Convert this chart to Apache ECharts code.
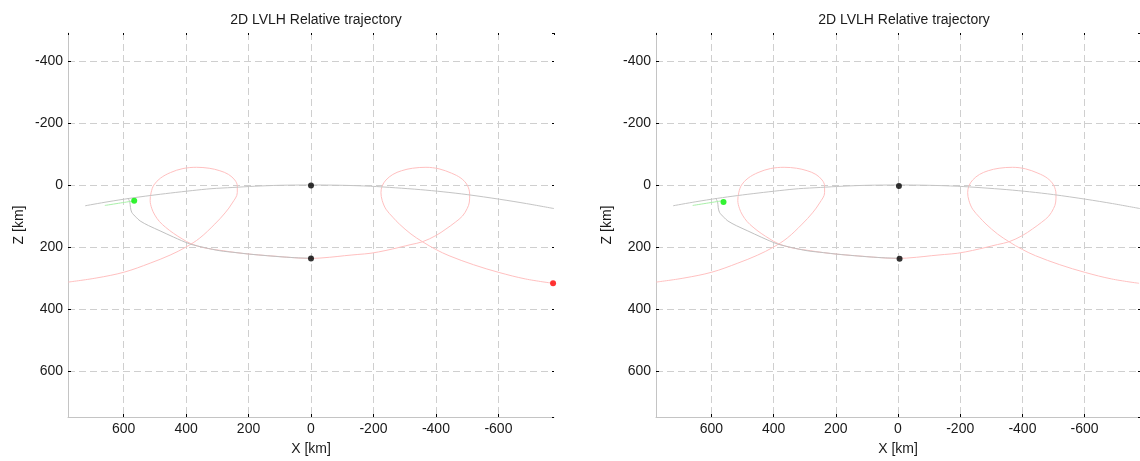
<!DOCTYPE html>
<html>
<head>
<meta charset="utf-8">
<title>2D LVLH Relative trajectory</title>
<script src="https://cdn.jsdelivr.net/npm/echarts@6/dist/echarts.min.js"></script>
<style>
  html, body { margin: 0; padding: 0; background: #fff; }
  #chart { width: 1140px; height: 461px; }
</style>
</head>
<body>
<div id="chart"></div>
<script>
const chartDom = document.getElementById('chart');
const myChart = echarts.init(chartDom);

// axis extents (km)
const xRange = [-778, 778];
const zRange = [-490, 748];

// long gray arc through the origin
const arcX = [723, 650, 580, 515, 450, 380, 320, 250, 180, 100, 0, -100, -190, -270, -350, -423, -500, -604, -690, -778];
const arcZ = [67, 54, 43, 34, 26, 18, 12, 8, 4, 1, 0, 1, 4, 9, 15, 22, 31, 46, 60, 76];

// short green approach segment
const greenX = [660, 610, 566];
const greenZ = [66, 58, 51];

// gray hook down to the lower point
const hookX = [586, 580, 578, 574, 560, 547, 520, 483, 440, 388, 340, 292, 240, 196, 140, 90, 40, 0];
const hookZ = [42, 55, 72, 88, 104, 116, 131, 148, 168, 190, 202, 212, 218, 223, 228, 232, 235, 236];

// red (pink) looping trajectory, from the left edge to the end point
const redX = [777, 688, 598, 515, 451, 400, 356, 308, 275, 252, 236, 236, 244, 264, 292, 326, 366, 410, 450, 482, 503, 512, 515, 510, 500, 485, 466, 440, 412, 385, 340, 281, 240, 196, 150, 111, 60, 4,
  -60, -107, -150, -192, -240, -283, -320, -357, -400, -432, -462, -485, -500, -507, -508, -500, -480, -450, -410, -368, -325, -290, -262, -240, -228, -224, -228, -240, -262, -283, -320, -357, -400, -442, -520, -602, -687, -775];
const redZ = [313, 300, 281, 252, 226, 200, 171, 126, 90, 58, 25, 3, -16, -34, -46, -54, -57, -53, -40, -22, 0, 25, 50, 75, 97, 118, 136, 156, 174, 189, 203, 212, 218, 223, 227, 230, 234, 237,
  233, 228, 224, 220, 211, 201, 192, 183, 163, 142, 120, 100, 76, 55, 30, 0, -22, -38, -52, -57, -54, -46, -34, -16, 3, 25, 50, 78, 104, 126, 158, 183, 208, 228, 257, 282, 303, 317];

// markers, left panel
const blackDotsL = [[0, 2], [0, 237]];
const greenDotL = [[566, 51]];
const redDotL = [[-775, 317]];
// markers, right panel
const blackDotsR = [[-3, 3], [-5, 238]];
const greenDotR = [[561, 55]];

const zip = (xs, zs) => xs.map((x, i) => [x, zs[i]]);

const panels = [
  { left: 68, center: 311, blacks: blackDotsL, green: greenDotL, red: redDotL },
  { left: 656, center: 899, blacks: blackDotsR, green: greenDotR, red: [] }
];

const labelFont = { fontFamily: 'Liberation Sans, Arial, sans-serif', fontSize: 14, color: '#1a1a1a' };

const grids = [], xAxes = [], yAxes = [], titles = [], series = [];

panels.forEach((p, gi) => {
  grids.push({ left: p.left, top: 33, width: 486, height: 385.5 });
  titles.push({
    text: '2D LVLH Relative trajectory',
    left: p.center, top: 8, textAlign: 'center',
    textStyle: { ...labelFont, fontWeight: 'normal' }
  });
  const gridLine = { show: true, showMinLine: false, showMaxLine: false, lineStyle: { color: '#cfcfcf', type: [7, 4], width: 1 } };
  xAxes.push({
    gridIndex: gi, type: 'value', inverse: true, position: 'bottom',
    min: xRange[0], max: xRange[1], splitNumber: 8,
    name: 'X [km]', nameLocation: 'middle', nameGap: 25, nameTextStyle: labelFont,
    axisLine: { onZero: false, lineStyle: { color: '#c4c4c4' } },
    axisTick: { inside: true, length: 3, lineStyle: { color: '#000' } },
    axisLabel: { ...labelFont, margin: 5, showMinLabel: false, showMaxLabel: false },
    splitLine: gridLine
  });
  xAxes.push({
    gridIndex: gi, type: 'value', inverse: true, position: 'top',
    min: xRange[0], max: xRange[1], splitNumber: 8,
    axisLine: { show: false, onZero: false },
    axisTick: { inside: true, length: 2, lineStyle: { color: '#000' } },
    axisLabel: { show: false }, splitLine: { show: false }
  });
  yAxes.push({
    gridIndex: gi, type: 'value', inverse: true, position: 'left',
    min: zRange[0], max: zRange[1], splitNumber: 6,
    name: 'Z [km]', nameLocation: 'middle', nameGap: 42, nameTextStyle: labelFont,
    axisLine: { show: true, onZero: false, lineStyle: { color: '#c4c4c4' } },
    axisTick: { show: true, inside: true, length: 3, lineStyle: { color: '#000' } },
    axisLabel: { ...labelFont, margin: 5, showMinLabel: false, showMaxLabel: false },
    splitLine: gridLine
  });
  yAxes.push({
    gridIndex: gi, type: 'value', inverse: true, position: 'right',
    min: zRange[0], max: zRange[1], splitNumber: 6,
    axisLine: { show: false, onZero: false },
    axisTick: { show: true, inside: true, length: 2, lineStyle: { color: '#000' } },
    axisLabel: { show: false }, splitLine: { show: false }
  });

  const xi = gi * 2, yi = gi * 2;
  const line = (data, color, smooth) => ({
    type: 'line', xAxisIndex: xi, yAxisIndex: yi, data,
    showSymbol: false, smooth, silent: true,
    lineStyle: { color, width: 1 }
  });
  const dots = (data, color) => ({
    type: 'scatter', xAxisIndex: xi, yAxisIndex: yi, data,
    symbolSize: 6, itemStyle: { color }, z: 5, silent: true
  });
  series.push(line(zip(redX, redZ), '#ffc0c0', 0.35));
  series.push(line(zip(arcX, arcZ), '#c4c4c4', 0.3));
  series.push(line(zip(hookX, hookZ), '#c0c0c0', 0.3));
  series.push(line(zip(greenX, greenZ), '#a8f0a8', 0.3));
  series.push(dots(p.blacks, '#000'));
  series.push(dots(p.green, '#00f000'));
  if (p.red.length) series.push(dots(p.red, '#ff0000'));
});

const option = {
  animation: false,
  backgroundColor: '#fff',
  title: titles,
  grid: grids,
  xAxis: xAxes,
  yAxis: yAxes,
  series
};

myChart.setOption(option);
</script>
</body>
</html>
